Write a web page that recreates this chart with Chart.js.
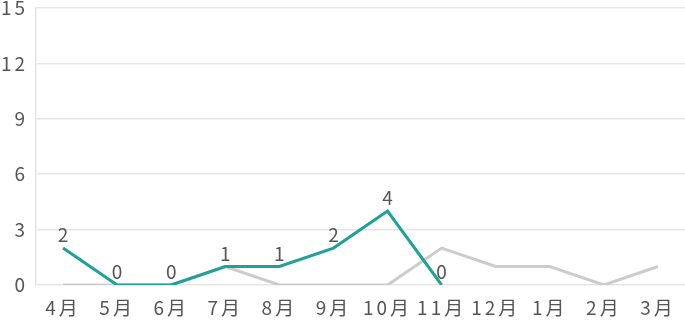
<!DOCTYPE html>
<html>
<head>
<meta charset="utf-8">
<script src="https://cdn.jsdelivr.net/npm/chart.js@4"></script>
<style>
  html, body { margin: 0; padding: 0; background: #fff; }
  #wrap { width: 685px; height: 323px; }
</style>
</head>
<body>
<div id="wrap"><canvas id="chart"></canvas></div>
<script>
const months = ["4月", "5月", "6月", "7月", "8月", "9月", "10月", "11月", "12月", "1月", "2月", "3月"];
const thisYear = [2, 0, 0, 1, 1, 2, 4, 0, null, null, null, null];
const lastYear = [0, 0, 0, 1, 0, 0, 0, 2, 1, 1, 0, 1];
const yTicks = [0, 3, 6, 9, 12, 15];

const fontFamily = "'Noto Sans CJK JP', 'Noto Sans', sans-serif";

// a bit of letter spacing like the original
const spacing = {
  id: "spacing",
  beforeDraw(chart) { chart.ctx.letterSpacing = "3px"; },
  afterDraw(chart) { chart.ctx.letterSpacing = "0px"; }
};

// draws the numbers above the teal points
const pointLabels = {
  id: "pointLabels",
  afterDatasetsDraw(chart) {
    const ctx = chart.ctx;
    const meta = chart.getDatasetMeta(0);
    ctx.save();
    ctx.letterSpacing = "0px";
    ctx.font = "19px " + fontFamily;
    ctx.fillStyle = "#555";
    ctx.textAlign = "center";
    ctx.textBaseline = "alphabetic";
    meta.data.forEach((pt, i) => {
      const v = thisYear[i];
      if (v === null) return;
      ctx.fillText(String(v), pt.x, pt.y - 6);
    });
    ctx.restore();
  }
};

new Chart(document.getElementById("chart"), {
  type: "line",
  data: {
    labels: months,
    datasets: [
      {
        data: thisYear,
        borderColor: "#1fa098",
        borderWidth: 3,
        pointRadius: 0,
        tension: 0,
        order: 0
      },
      {
        data: lastYear,
        borderColor: "#cccccc",
        borderWidth: 3,
        pointRadius: 0,
        tension: 0,
        order: 1
      }
    ]
  },
  options: {
    responsive: true,
    maintainAspectRatio: false,
    animation: false,
    layout: { padding: 0 },
    plugins: { legend: { display: false }, tooltip: { enabled: false } },
    scales: {
      x: {
        offset: true,
        grid: { display: false, drawTicks: false },
        border: { display: false },
        afterFit: axis => { axis.height = 38; axis.paddingLeft = 0; axis.paddingRight = 0; },
        ticks: { color: "#555", font: { size: 19, family: fontFamily }, padding: 11 }
      },
      y: {
        min: 0,
        max: 15,
        afterBuildTicks: axis => { axis.ticks = yTicks.map(v => ({ value: v })); },
        afterFit: axis => { axis.width = 36; axis.paddingTop = 8; axis.paddingBottom = 0; },
        grid: { color: "#e6e6e6", lineWidth: 1.5, drawTicks: false },
        border: { display: true, color: "#e6e6e6", width: 1.5 },
        ticks: { color: "#555", font: { size: 19, family: fontFamily }, padding: 8 }
      }
    }
  },
  plugins: [spacing, pointLabels]
});
</script>
</body>
</html>
